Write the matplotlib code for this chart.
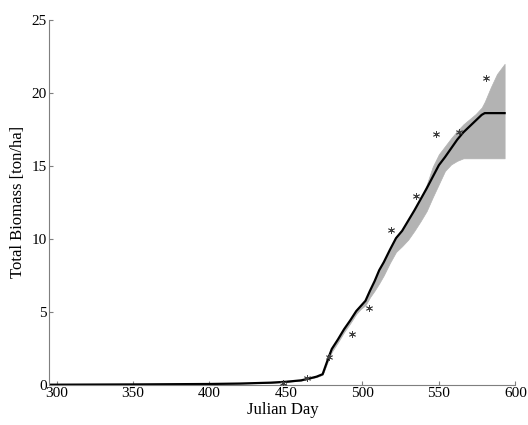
import matplotlib
matplotlib.use("Agg")
import matplotlib.pyplot as plt
import numpy as np

# Simulation (mean and uncertainty band)
sim_day = [296, 350, 400, 420, 440, 450, 460, 465, 470, 474, 478, 480, 484, 488,
           492, 496, 499, 502, 505, 508, 511, 514, 518, 522, 526, 530, 534, 538,
           542, 546, 550, 554, 558, 562, 566, 570, 574, 578, 580, 584, 588, 593]
sim_mean = [0.0, 0.02, 0.05, 0.08, 0.14, 0.2, 0.3, 0.42, 0.55, 0.72, 1.9, 2.45, 3.1, 3.8,
            4.4, 5.05, 5.4, 5.75, 6.45, 7.1, 7.85, 8.4, 9.25, 10.05, 10.55, 11.25, 11.95, 12.7,
            13.45, 14.25, 15.05, 15.6, 16.2, 16.8, 17.3, 17.7, 18.1, 18.5, 18.62, 18.62, 18.62, 18.62]
sim_lower = [0.0, 0.02, 0.05, 0.08, 0.13, 0.19, 0.28, 0.4, 0.52, 0.68, 1.75, 2.25, 2.9, 3.6,
             4.2, 4.85, 5.2, 5.45, 6.0, 6.45, 6.95, 7.5, 8.35, 9.1, 9.5, 9.95, 10.55, 11.2,
             11.9, 12.85, 13.75, 14.65, 15.1, 15.35, 15.52, 15.52, 15.52, 15.52, 15.52, 15.52, 15.52, 15.52]
sim_upper = [0.0, 0.02, 0.05, 0.08, 0.14, 0.2, 0.3, 0.42, 0.55, 0.72, 1.9, 2.45, 3.1, 3.8,
             4.4, 5.05, 5.4, 5.75, 6.45, 7.1, 7.85, 8.4, 9.25, 10.05, 10.55, 11.25, 11.95, 12.8,
             13.7, 14.95, 15.8, 16.35, 16.9, 17.4, 17.85, 18.2, 18.55, 19.0, 19.4, 20.4, 21.3, 22.0]

# Observations
obs_day = [448, 464, 478, 493, 504, 519, 535, 548, 563, 581]
obs_val = [0.14, 0.44, 1.9, 3.5, 5.25, 10.6, 12.95, 17.2, 17.35, 21.05]

x_ticks = [300, 350, 400, 450, 500, 550, 600]
y_ticks = [0, 5, 10, 15, 20, 25]

plt.rcParams['font.family'] = ['Liberation Serif', 'DejaVu Serif']

fig = plt.figure(figsize=(5.28, 4.25), dpi=100)
ax = fig.add_axes([0.0934, 0.0948, 0.8826, 0.858])

ax.fill_between(sim_day, sim_lower, sim_upper, color='#b3b3b3', linewidth=0.5,
                edgecolor='#b3b3b3', zorder=1)
ax.plot(sim_day, sim_mean, color='black', linewidth=1.6, zorder=2)
ax.plot(obs_day, obs_val, linestyle='none', marker=(6, 2, 0), markersize=5,
        markeredgewidth=0.6, color='#404040', zorder=3)

ax.set_xlim(295.3, 600)
ax.set_ylim(0, 25)
ax.set_xticks(x_ticks)
ax.set_yticks(y_ticks)
for s in ['top', 'right']:
    ax.spines[s].set_visible(False)
for s in ['left', 'bottom']:
    ax.spines[s].set_color('#7f7f7f')
    ax.spines[s].set_linewidth(0.8)
ax.tick_params(direction='in', length=3, width=0.8, color='#7f7f7f',
               labelsize=11, labelcolor='black', pad=2)
ax.set_xlabel('Julian Day', fontsize=12, labelpad=1)
ax.set_ylabel('Total Biomass [ton/ha]', fontsize=12, labelpad=4)

fig.savefig('out.png', dpi=100)
